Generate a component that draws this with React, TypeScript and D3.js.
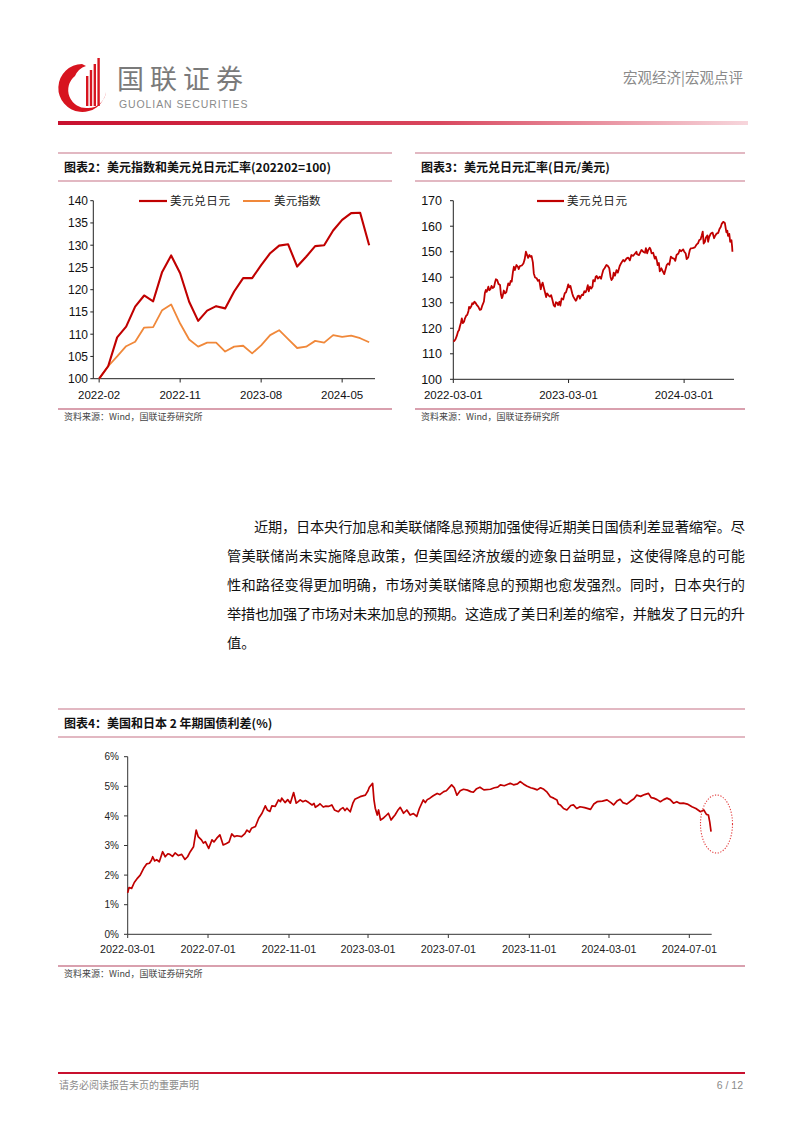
import React from 'react';
import * as d3 from 'd3';

// ---------- DATA ----------
const months2 = ["2022-02","2022-03","2022-04","2022-05","2022-06","2022-07","2022-08","2022-09","2022-10","2022-11","2022-12",
  "2023-01","2023-02","2023-03","2023-04","2023-05","2023-06","2023-07","2023-08","2023-09","2023-10","2023-11","2023-12",
  "2024-01","2024-02","2024-03","2024-04","2024-05","2024-06","2024-07","2024-08"];
const usdjpyIndex = [100,102.8,109.3,111.7,116.2,118.7,117.4,124.0,127.7,123.7,117.3,113.0,115.3,116.3,115.8,119.6,122.6,122.6,
  125.5,128.2,129.9,130.2,125.2,127.4,129.8,130.0,133.3,135.7,137.2,137.3,130.0];
const dxyIndex = [100,102.8,105.0,107.3,108.3,111.5,111.6,115.4,116.7,112.4,108.8,107.2,108.1,108.1,106.1,107.2,107.4,105.7,
  107.5,109.8,110.9,108.9,106.9,107.2,108.5,108.1,109.8,109.4,109.7,109.1,108.2];
const xTicks2 = ["2022-02","2022-11","2023-08","2024-05"];
const yTicks2 = [100,105,110,115,120,125,130,135,140];

const usdjpyDaily: [string, number][] = [
  ["2022-03-01",114.8],["2022-03-04",115.0],["2022-03-08",115.7],["2022-03-12",117.0],["2022-03-16",118.7],["2022-03-19",119.2],
  ["2022-03-22",120.8],["2022-03-25",122.1],["2022-03-28",123.9],["2022-03-31",122.0],["2022-04-04",122.6],["2022-04-07",123.9],
  ["2022-04-11",125.0],["2022-04-14",125.2],["2022-04-18",126.8],["2022-04-20",128.4],["2022-04-23",127.8],["2022-04-27",128.6],
  ["2022-04-30",129.8],["2022-05-03",129.5],["2022-05-07",130.4],["2022-05-11",129.9],["2022-05-14",129.2],["2022-05-19",128.5],
  ["2022-05-24",127.2],["2022-05-28",127.4],["2022-06-01",129.0],["2022-06-06",130.5],["2022-06-09",133.8],["2022-06-12",135.0],
  ["2022-06-15",134.3],["2022-06-20",136.3],["2022-06-23",134.9],["2022-06-27",135.4],["2022-06-30",136.6],["2022-07-04",135.8],
  ["2022-07-08",136.2],["2022-07-11",137.9],["2022-07-14",139.2],["2022-07-18",138.9],["2022-07-22",137.4],["2022-07-27",137.0],
  ["2022-07-30",133.2],["2022-08-02",131.8],["2022-08-04",132.4],["2022-08-08",134.8],["2022-08-12",133.7],["2022-08-16",134.2],
  ["2022-08-22",137.6],["2022-08-26",136.9],["2022-08-30",138.6],["2022-09-02",138.3],["2022-09-06",142.2],["2022-09-09",144.1],
  ["2022-09-12",142.8],["2022-09-17",144.8],["2022-09-22",144.0],["2022-09-24",143.2],["2022-09-28",144.4],["2022-10-04",144.6],
  ["2022-10-09",145.4],["2022-10-13",147.0],["2022-10-17",150.0],["2022-10-21",148.6],["2022-10-24",147.6],["2022-10-28",148.7],
  ["2022-11-01",148.0],["2022-11-04",148.3],["2022-11-08",145.8],["2022-11-11",141.5],["2022-11-15",139.9],["2022-11-20",139.6],
  ["2022-11-24",138.6],["2022-11-28",138.9],["2022-11-30",137.6],["2022-12-03",135.3],["2022-12-06",136.9],["2022-12-09",137.9],
  ["2022-12-13",135.8],["2022-12-16",134.3],["2022-12-20",132.2],["2022-12-23",133.7],["2022-12-28",132.8],["2023-01-01",132.4],
  ["2023-01-05",133.0],["2023-01-09",131.1],["2023-01-13",129.0],["2023-01-17",128.5],["2023-01-20",130.2],["2023-01-24",130.0],
  ["2023-01-27",129.1],["2023-01-31",130.4],["2023-02-03",128.9],["2023-02-07",131.7],["2023-02-12",131.3],["2023-02-17",133.7],
  ["2023-02-21",134.1],["2023-02-25",135.8],["2023-02-28",137.2],["2023-03-03",136.0],["2023-03-07",136.6],["2023-03-10",135.0],
  ["2023-03-13",133.5],["2023-03-16",132.4],["2023-03-20",131.6],["2023-03-24",130.8],["2023-03-26",131.1],["2023-03-30",132.6],
  ["2023-04-03",132.8],["2023-04-06",131.6],["2023-04-10",132.7],["2023-04-13",133.2],["2023-04-16",133.0],["2023-04-20",134.5],
  ["2023-04-24",134.1],["2023-04-27",135.0],["2023-05-01",136.9],["2023-05-04",134.5],["2023-05-08",136.3],["2023-05-12",135.6],
  ["2023-05-16",136.4],["2023-05-18",138.9],["2023-05-23",138.4],["2023-05-26",140.2],["2023-05-29",140.5],["2023-06-02",139.5],
  ["2023-06-08",140.2],["2023-06-12",139.4],["2023-06-16",141.5],["2023-06-19",142.8],["2023-06-23",143.5],["2023-06-29",144.8],
  ["2023-07-03",144.5],["2023-07-08",143.5],["2023-07-12",140.1],["2023-07-15",138.9],["2023-07-19",139.6],["2023-07-22",141.8],
  ["2023-07-26",140.6],["2023-07-31",142.8],["2023-08-04",141.8],["2023-08-10",144.4],["2023-08-15",145.6],["2023-08-21",146.8],
  ["2023-08-25",146.2],["2023-09-01",147.4],["2023-09-06",147.7],["2023-09-11",146.6],["2023-09-16",148.7],["2023-09-22",148.4],
  ["2023-09-27",149.2],["2023-10-02",150.0],["2023-10-04",149.0],["2023-10-10",148.7],["2023-10-18",150.7],["2023-10-24",149.9],
  ["2023-10-29",149.6],["2023-11-01",151.4],["2023-11-05",149.4],["2023-11-08",150.6],["2023-11-13",151.6],["2023-11-16",150.9],
  ["2023-11-19",149.4],["2023-11-24",149.6],["2023-11-29",147.3],["2023-12-02",148.1],["2023-12-06",146.4],["2023-12-08",144.8],
  ["2023-12-12",145.6],["2023-12-15",142.3],["2023-12-20",143.5],["2023-12-25",142.2],["2023-12-29",141.2],["2024-01-03",143.4],
  ["2024-01-06",144.8],["2024-01-10",145.4],["2024-01-14",144.9],["2024-01-19",148.1],["2024-01-24",147.5],["2024-01-29",147.3],
  ["2024-02-02",146.4],["2024-02-06",148.7],["2024-02-12",149.3],["2024-02-16",150.7],["2024-02-21",150.2],["2024-02-27",150.9],
  ["2024-03-01",150.1],["2024-03-06",149.3],["2024-03-09",147.1],["2024-03-14",147.8],["2024-03-19",150.6],["2024-03-22",151.3],
  ["2024-03-28",151.4],["2024-04-04",151.7],["2024-04-10",152.9],["2024-04-14",153.3],["2024-04-18",154.6],["2024-04-22",154.8],
  ["2024-04-26",156.5],["2024-04-29",157.9],["2024-05-02",153.2],["2024-05-06",153.9],["2024-05-09",155.6],["2024-05-14",156.4],
  ["2024-05-16",153.9],["2024-05-19",155.6],["2024-05-24",157.0],["2024-05-30",157.5],["2024-06-04",155.3],["2024-06-07",156.2],
  ["2024-06-12",157.1],["2024-06-17",157.4],["2024-06-21",158.9],["2024-06-25",159.7],["2024-06-28",160.9],["2024-07-03",161.7],
  ["2024-07-08",161.3],["2024-07-11",159.0],["2024-07-13",157.6],["2024-07-16",158.2],["2024-07-18",156.2],["2024-07-22",157.0],
  ["2024-07-25",153.9],["2024-07-29",154.5],["2024-07-31",152.0],["2024-08-01",150.0]
];
const xTicks3 = ["2022-03-01","2023-03-01","2024-03-01"];
const yTicks3 = [100,110,120,130,140,150,160,170];

const spread: [string, number][] = [
  ["2022-03-01",1.40],["2022-03-03",1.58],["2022-03-07",1.55],["2022-03-11",1.75],["2022-03-16",1.90],["2022-03-20",2.00],
  ["2022-03-25",2.22],["2022-03-30",2.38],["2022-04-03",2.40],["2022-04-06",2.50],["2022-04-08",2.62],["2022-04-11",2.48],
  ["2022-04-14",2.52],["2022-04-18",2.45],["2022-04-23",2.79],["2022-04-27",2.62],["2022-05-01",2.72],["2022-05-04",2.70],
  ["2022-05-08",2.63],["2022-05-12",2.75],["2022-05-17",2.66],["2022-05-22",2.70],["2022-05-27",2.53],["2022-05-31",2.62],
  ["2022-06-04",2.79],["2022-06-09",2.96],["2022-06-13",3.52],["2022-06-16",3.30],["2022-06-21",3.19],["2022-06-24",3.08],
  ["2022-06-27",3.13],["2022-07-02",2.90],["2022-07-07",3.19],["2022-07-10",3.12],["2022-07-14",3.24],["2022-07-19",3.36],
  ["2022-07-24",3.02],["2022-07-29",3.07],["2022-08-02",3.12],["2022-08-06",3.39],["2022-08-10",3.30],["2022-08-14",3.33],
  ["2022-08-21",3.30],["2022-08-26",3.40],["2022-08-29",3.52],["2022-09-02",3.45],["2022-09-05",3.58],["2022-09-11",3.64],
  ["2022-09-16",3.92],["2022-09-21",4.09],["2022-09-26",4.34],["2022-09-29",4.20],["2022-10-03",4.15],["2022-10-06",4.34],
  ["2022-10-11",4.32],["2022-10-16",4.54],["2022-10-19",4.48],["2022-10-21",4.60],["2022-10-26",4.45],["2022-10-30",4.55],
  ["2022-11-03",4.43],["2022-11-08",4.79],["2022-11-12",4.43],["2022-11-15",4.48],["2022-11-18",4.54],["2022-11-22",4.48],
  ["2022-11-26",4.52],["2022-12-01",4.45],["2022-12-06",4.37],["2022-12-09",4.42],["2022-12-11",4.29],["2022-12-15",4.35],
  ["2022-12-18",4.41],["2022-12-23",4.30],["2022-12-27",4.33],["2022-12-31",4.32],["2023-01-05",4.37],["2023-01-09",4.20],
  ["2023-01-15",4.14],["2023-01-18",4.22],["2023-01-22",4.28],["2023-01-25",4.18],["2023-01-28",4.26],["2023-02-02",4.14],
  ["2023-02-06",4.43],["2023-02-09",4.56],["2023-02-17",4.65],["2023-02-25",4.70],["2023-03-01",4.85],["2023-03-03",4.97],
  ["2023-03-08",5.10],["2023-03-10",4.55],["2023-03-12",4.26],["2023-03-15",4.03],["2023-03-17",4.20],["2023-03-20",3.86],
  ["2023-03-24",3.92],["2023-03-27",3.98],["2023-04-01",4.09],["2023-04-05",3.86],["2023-04-08",3.95],["2023-04-11",4.03],
  ["2023-04-15",4.18],["2023-04-19",4.29],["2023-04-24",4.09],["2023-04-29",4.20],["2023-05-04",4.03],["2023-05-09",4.08],
  ["2023-05-14",3.98],["2023-05-18",4.25],["2023-05-24",4.54],["2023-05-27",4.45],["2023-05-30",4.55],["2023-06-03",4.60],
  ["2023-06-08",4.68],["2023-06-14",4.76],["2023-06-18",4.72],["2023-06-24",4.82],["2023-06-28",4.85],["2023-07-06",5.05],
  ["2023-07-10",4.95],["2023-07-14",4.70],["2023-07-19",4.85],["2023-07-24",4.90],["2023-07-30",4.87],["2023-08-04",4.82],
  ["2023-08-08",4.80],["2023-08-13",4.92],["2023-08-18",4.97],["2023-08-24",4.88],["2023-09-03",4.90],["2023-09-09",4.95],
  ["2023-09-14",4.97],["2023-09-18",5.05],["2023-09-24",5.02],["2023-10-03",5.10],["2023-10-08",5.05],["2023-10-14",5.08],
  ["2023-10-18",5.16],["2023-10-23",5.08],["2023-10-28",5.01],["2023-11-03",4.95],["2023-11-08",4.92],["2023-11-13",4.88],
  ["2023-11-18",4.95],["2023-11-23",4.90],["2023-11-28",4.80],["2023-12-03",4.65],["2023-12-08",4.60],["2023-12-13",4.54],
  ["2023-12-15",4.40],["2023-12-18",4.37],["2023-12-23",4.25],["2023-12-28",4.20],["2024-01-03",4.35],["2024-01-07",4.37],
  ["2024-01-12",4.25],["2024-01-17",4.31],["2024-01-24",4.28],["2024-02-02",4.22],["2024-02-07",4.40],["2024-02-12",4.48],
  ["2024-02-20",4.50],["2024-02-27",4.54],["2024-03-04",4.45],["2024-03-08",4.37],["2024-03-13",4.50],["2024-03-18",4.56],
  ["2024-03-22",4.45],["2024-03-28",4.40],["2024-04-04",4.52],["2024-04-08",4.58],["2024-04-12",4.70],["2024-04-18",4.66],
  ["2024-04-24",4.72],["2024-04-30",4.76],["2024-05-04",4.62],["2024-05-08",4.60],["2024-05-13",4.55],["2024-05-18",4.48],
  ["2024-05-23",4.55],["2024-05-28",4.60],["2024-06-02",4.55],["2024-06-07",4.43],["2024-06-12",4.48],["2024-06-17",4.42],
  ["2024-06-22",4.43],["2024-06-28",4.40],["2024-07-05",4.31],["2024-07-11",4.25],["2024-07-18",4.14],["2024-07-23",4.20],
  ["2024-07-27",4.05],["2024-07-30",4.03],["2024-08-01",3.80],["2024-08-03",3.47]
];
const xTicks4 = ["2022-03-01","2022-07-01","2022-11-01","2023-03-01","2023-07-01","2023-11-01","2024-03-01","2024-07-01"];
const yTicks4 = [0,1,2,3,4,5,6];

const paragraphLines = [
  "近期，日本央行加息和美联储降息预期加强使得近期美日国债利差显著缩窄。尽",
  "管美联储尚未实施降息政策，但美国经济放缓的迹象日益明显，这使得降息的可能",
  "性和路径变得更加明确，市场对美联储降息的预期也愈发强烈。同时，日本央行的",
  "举措也加强了市场对未来加息的预期。这造成了美日利差的缩窄，并触发了日元的升",
  "值。"
];

// ---------- STYLE ----------
const RED = '#c00000';
const ORANGE = '#f0883a';
const PINK = '#d9a0ae';
const CJK = '"Noto Sans CJK SC", sans-serif';
const NUM = '"Liberation Sans", Arial, sans-serif';
const parse = d3.timeParse('%Y-%m-%d');

function Header() {
  return (
    <g>
      <defs>
        <linearGradient id="hdr" x1="0" x2="1" y1="0" y2="0">
          <stop offset="0" stopColor="#c8102e" />
          <stop offset="0.55" stopColor="#d9475e" />
          <stop offset="1" stopColor="#f7d6dc" />
        </linearGradient>
      </defs>
      <path d="M 82 64 A 24 24 0 1 0 106 92 A 18 18 0 0 1 88 108 A 18 18 0 0 1 75 76 A 18 18 0 0 1 86 66 Z" fill="#d7141f" />
      {[0, 1, 2, 3].map(i => (
        <rect key={i} x={86 + i * 3.8} y={76 - i * 6} width={2.4} height={30 + i * 6} fill="#d7141f" />
      ))}
      <text x={117} y={89} fontFamily={CJK} fontSize={27} fill="#7a7a7a" letterSpacing={6}>国联证券</text>
      <text x={119} y={108} fontFamily={NUM} fontSize={10.5} fill="#8a8a8a" letterSpacing={0.9}>GUOLIAN SECURITIES</text>
      <rect x={58} y={121} width={690} height={4} fill="url(#hdr)" />
      <text x={743} y={83} textAnchor="end" fontFamily={CJK} fontSize={14.5} fill="#8a8a8a">宏观经济|宏观点评</text>
    </g>
  );
}

function Block({ x0, x1, top, title, bottom }: { x0: number; x1: number; top: number; title: string; bottom: number }) {
  return (
    <g>
      <line x1={x0} x2={x1} y1={top} y2={top} stroke={PINK} strokeWidth={1.3} />
      <text x={x0 + 6} y={top + 18.5} fontFamily={CJK} fontWeight={700} fontSize={12} fill="#111">{title}</text>
      <line x1={x0} x2={x1} y1={top + 28} y2={top + 28} stroke={PINK} strokeWidth={1.3} />
      <line x1={x0} x2={x1} y1={bottom} y2={bottom} stroke={PINK} strokeWidth={2} />
      <text x={x0 + 6} y={bottom + 11} fontFamily={CJK} fontSize={9} fill="#444">资料来源：Wind，国联证券研究所</text>
    </g>
  );
}

function Chart2() {
  const x = d3.scalePoint<string>().domain(months2).range([93.3, 375]).padding(0.65);
  const y = d3.scaleLinear().domain([100, 140]).range([378.7, 200.7]);
  const mk = (vals: number[]) => d3.line<number>().x((_, i) => x(months2[i]) as number).y(d => y(d))(vals) || '';
  return (
    <g>
      <Block x0={58} x1={392} top={153} bottom={409} title="图表2：美元指数和美元兑日元汇率(202202=100)" />
      <line x1={93.3} x2={93.3} y1={200.7} y2={378.7} stroke="#222" />
      <line x1={93.3} x2={375} y1={378.7} y2={378.7} stroke="#222" />
      {yTicks2.map(t => (
        <g key={t}>
          <line x1={90.3} x2={93.3} y1={y(t)} y2={y(t)} stroke="#222" />
          <text x={88} y={y(t)} dy="0.36em" textAnchor="end" fontFamily={NUM} fontSize={12} fill="#111">{t}</text>
        </g>
      ))}
      {xTicks2.map(t => (
        <g key={t}>
          <line x1={x(t)} x2={x(t)} y1={378.7} y2={382.5} stroke="#222" />
          <text x={x(t)} y={399} textAnchor="middle" fontFamily={NUM} fontSize={11.5} fill="#111">{t}</text>
        </g>
      ))}
      <path d={mk(dxyIndex)} fill="none" stroke={ORANGE} strokeWidth={1.8} strokeLinejoin="round" />
      <path d={mk(usdjpyIndex)} fill="none" stroke={RED} strokeWidth={2.1} strokeLinejoin="round" />
      <line x1={139} x2={167} y1={201} y2={201} stroke={RED} strokeWidth={2.2} />
      <text x={170} y={205} fontFamily={CJK} fontSize={11.5} fill="#222" letterSpacing={0.6}>美元兑日元</text>
      <line x1={243} x2={270} y1={201} y2={201} stroke={ORANGE} strokeWidth={2} />
      <text x={274} y={205} fontFamily={CJK} fontSize={11.5} fill="#222" letterSpacing={0.2}>美元指数</text>
    </g>
  );
}

function Chart3() {
  const x = d3.scaleTime().domain([parse('2022-03-01')!, parse('2024-08-06')!]).range([453.3, 734]);
  const y = d3.scaleLinear().domain([100, 170]).range([379.3, 200.7]);
  const path = d3.line<[string, number]>().x(d => x(parse(d[0])!)).y(d => y(d[1]))(usdjpyDaily) || '';
  return (
    <g>
      <Block x0={415} x1={745} top={153} bottom={409} title="图表3：美元兑日元汇率(日元/美元)" />
      <line x1={453.3} x2={453.3} y1={200.7} y2={379.3} stroke="#222" />
      <line x1={453.3} x2={734} y1={379.3} y2={379.3} stroke="#222" />
      {yTicks3.map(t => (
        <g key={t}>
          <line x1={450} x2={453.3} y1={y(t)} y2={y(t)} stroke="#222" />
          <text x={442} y={y(t)} dy="0.36em" textAnchor="end" fontFamily={NUM} fontSize={12.5} fill="#111">{t}</text>
        </g>
      ))}
      {xTicks3.map(t => (
        <g key={t}>
          <line x1={x(parse(t)!)} x2={x(parse(t)!)} y1={379.3} y2={383} stroke="#222" />
          <text x={x(parse(t)!)} y={399} textAnchor="middle" fontFamily={NUM} fontSize={11.5} fill="#111">{t}</text>
        </g>
      ))}
      <path d={path} fill="none" stroke={RED} strokeWidth={1.8} strokeLinejoin="round" />
      <line x1={537} x2={564} y1={201} y2={201} stroke={RED} strokeWidth={2.2} />
      <text x={567} y={205} fontFamily={CJK} fontSize={11.5} fill="#222" letterSpacing={0.6}>美元兑日元</text>
    </g>
  );
}

function Chart4() {
  const x = d3.scaleTime().domain([parse('2022-03-01')!, parse('2024-08-04')!]).range([127.7, 711.7]);
  const y = d3.scaleLinear().domain([0, 6]).range([934.3, 756.7]);
  const path = d3.line<[string, number]>().x(d => x(parse(d[0])!)).y(d => y(d[1]))(spread) || '';
  return (
    <g>
      <Block x0={58} x1={745} top={709} bottom={966} title="图表4：美国和日本 2 年期国债利差(%)" />
      <line x1={127.7} x2={127.7} y1={756.7} y2={934.3} stroke="#333" />
      <line x1={127.7} x2={711.7} y1={934.3} y2={934.3} stroke="#333" />
      {yTicks4.map(t => (
        <g key={t}>
          <line x1={124} x2={127.7} y1={y(t)} y2={y(t)} stroke="#333" />
          <text x={119} y={y(t)} dy="0.36em" textAnchor="end" fontFamily={NUM} fontSize={10} fill="#222">{t}%</text>
        </g>
      ))}
      {xTicks4.map(t => (
        <g key={t}>
          <line x1={x(parse(t)!)} x2={x(parse(t)!)} y1={934.3} y2={938} stroke="#333" />
          <text x={x(parse(t)!)} y={953} textAnchor="middle" fontFamily={NUM} fontSize={10.8} fill="#222">{t}</text>
        </g>
      ))}
      <path d={path} fill="none" stroke={RED} strokeWidth={1.7} strokeLinejoin="round" />
      <ellipse cx={716.5} cy={824} rx={16} ry={29} fill="none" stroke="#e23a3a" strokeWidth={1.1} strokeDasharray="1.2 1.6" />
    </g>
  );
}

function Paragraph() {
  const ys = [532, 561, 590, 619, 648];
  return (
    <g fontFamily={CJK} fontSize={14.2} fill="#111">
      {paragraphLines.map((l, i) => {
        const x0 = i === 0 ? 254 : 227;
        const full = i < 4;
        return (
          <text key={i} x={x0} y={ys[i]} {...(full ? { textLength: 745 - x0, lengthAdjust: 'spacing' } : {})}>{l}</text>
        );
      })}
    </g>
  );
}

function Footer() {
  return (
    <g>
      <line x1={58} x2={745} y1={1073} y2={1073} stroke="#c8102e" strokeWidth={2} />
      <text x={59} y={1089} fontFamily={CJK} fontSize={10} fill="#8a8a8a">请务必阅读报告末页的重要声明</text>
      <text x={743} y={1089} textAnchor="end" fontFamily={NUM} fontSize={10.5} fill="#8a8a8a">6 / 12</text>
    </g>
  );
}

export default function App() {
  return (
    <svg width={802} height={1133} viewBox="0 0 802 1133" style={{ position: 'absolute', left: 0, top: 0, background: '#fff' }}>
      <rect width={802} height={1133} fill="#fff" />
      <Header />
      <Chart2 />
      <Chart3 />
      <Paragraph />
      <Chart4 />
      <Footer />
    </svg>
  );
}
